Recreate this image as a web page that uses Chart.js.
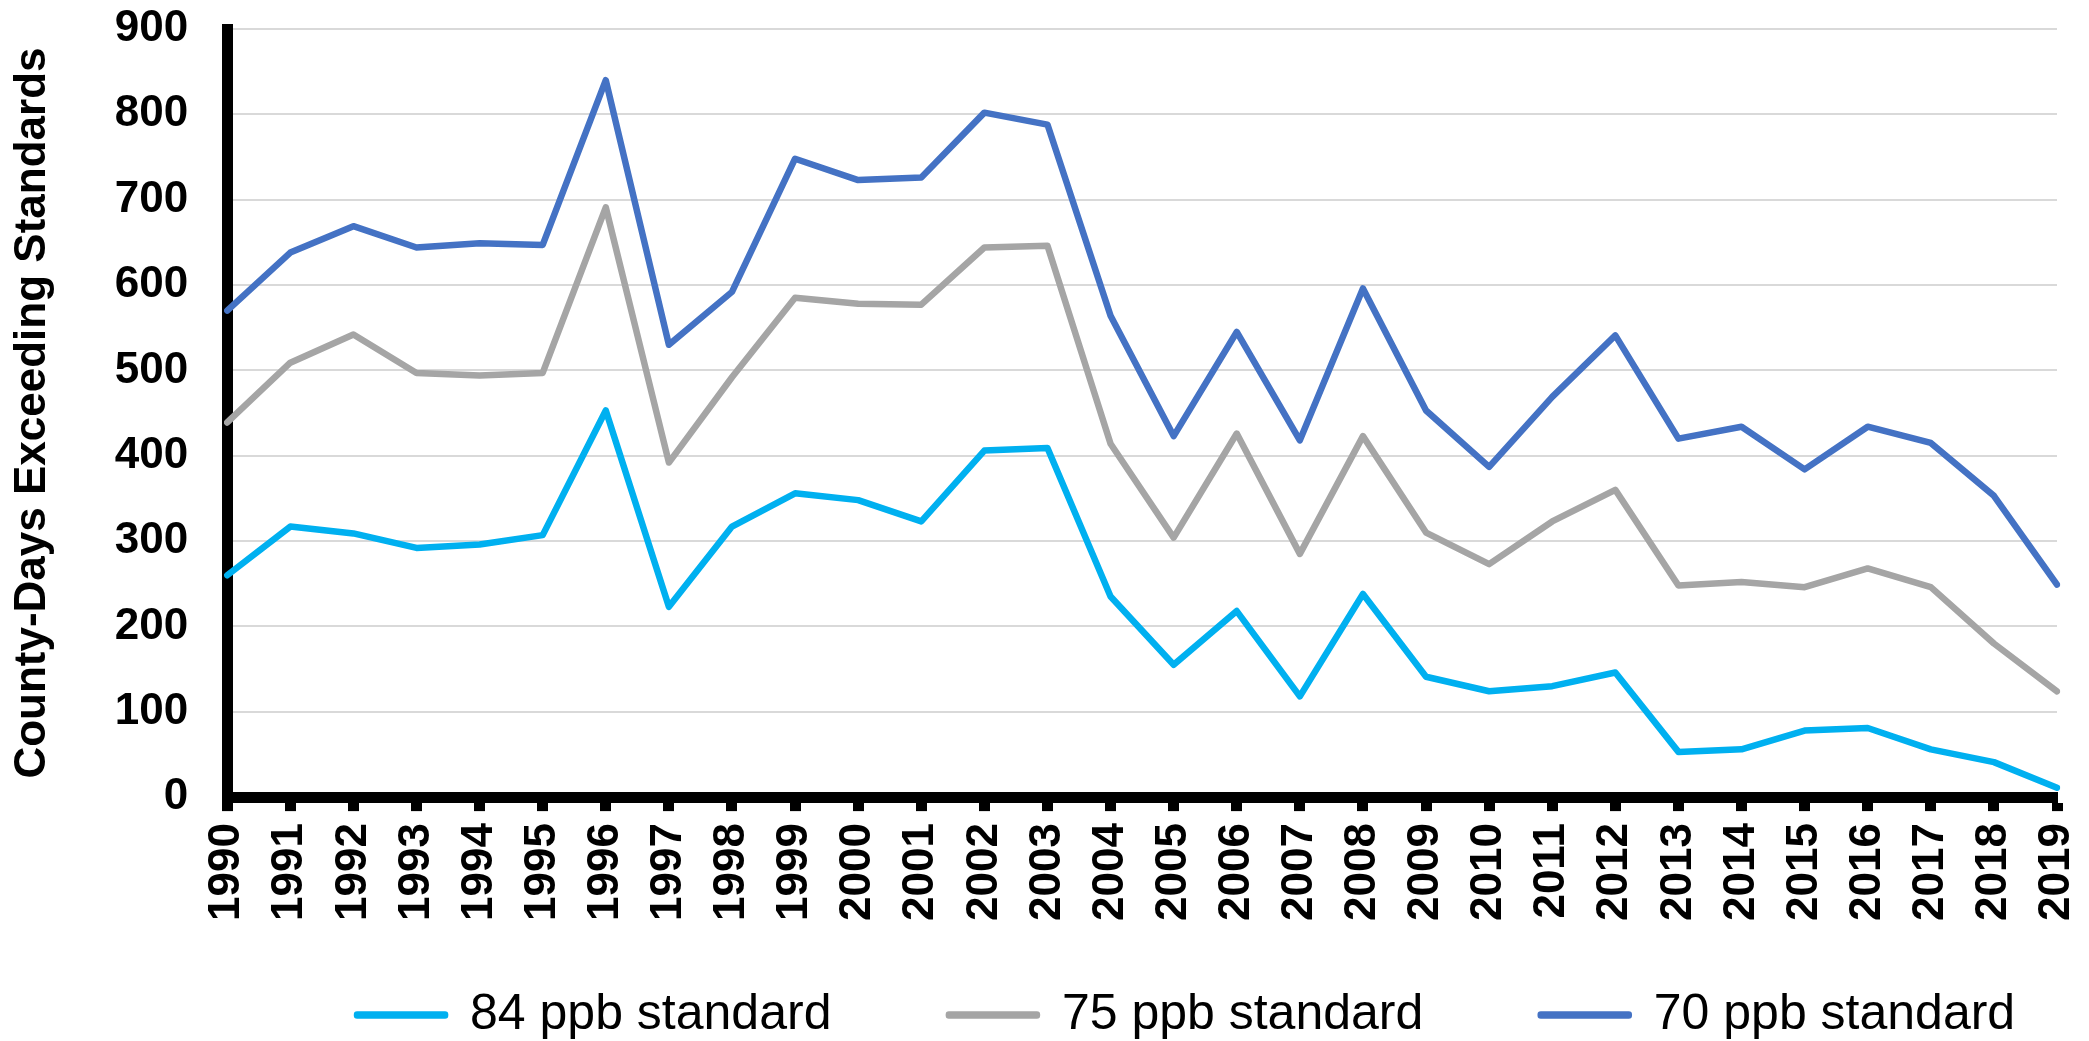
<!DOCTYPE html>
<html>
<head>
<meta charset="utf-8">
<script src="https://cdn.jsdelivr.net/npm/chart.js@4.4.1/dist/chart.umd.min.js"></script>
<style>
  html, body { margin: 0; padding: 0; background: #ffffff; overflow: hidden; }
  #wrap { position: relative; width: 2089px; height: 1041px; }
</style>
</head>
<body>
<div id="wrap"><canvas id="ozoneChart"></canvas></div>
<script>
const years = ['1990', '1991', '1992', '1993', '1994', '1995', '1996', '1997', '1998', '1999',
  '2000', '2001', '2002', '2003', '2004', '2005', '2006', '2007', '2008', '2009',
  '2010', '2011', '2012', '2013', '2014', '2015', '2016', '2017', '2018', '2019'];

const std84 = [260, 317, 309, 292, 296, 307, 453, 223, 317, 356,
  348, 323, 406, 409, 235, 155, 218, 118, 238, 141,
  124, 130, 146, 53, 56, 78, 81, 56, 41, 11];

const std75 = [439, 509, 542, 497, 494, 497, 691, 392, 492, 585,
  578, 577, 644, 646, 414, 304, 426, 285, 423, 310,
  273, 323, 360, 248, 252, 246, 268, 246, 180, 124];

const std70 = [570, 638, 669, 644, 649, 647, 840, 530, 592, 748,
  723, 726, 802, 788, 564, 423, 545, 418, 596, 453,
  387, 469, 541, 420, 434, 384, 434, 415, 353, 249];

const seriesNames = ['84 ppb standard', '75 ppb standard', '70 ppb standard'];
const seriesColors = ['#00b0f0', '#a5a5a5', '#4472c4'];
const yTicks = [0, 100, 200, 300, 400, 500, 600, 700, 800, 900];

const fontFamily = '"Liberation Sans", Arial, sans-serif';
const ctx = document.getElementById('ozoneChart').getContext('2d');

// extra room after each legend entry, like the original
const legendGap = '     ';

const makeSet = (i, values) => ({
  label: seriesNames[i],
  data: values,
  borderColor: seriesColors[i],
  backgroundColor: seriesColors[i],
  borderWidth: 6.5,
  pointRadius: 0,
  tension: 0,
  borderJoinStyle: 'round',
  borderCapStyle: 'round'
});

// nudge the legend row to where the original has it
const legendShift = {
  id: 'legendShift',
  afterLayout(chart) {
    chart.legend.left += 44;
    chart.legend.right += 44;
    chart.legend.top += 9;
    chart.legend.bottom += 9;
  }
};

new Chart(ctx, {
  type: 'line',
  data: {
    labels: years,
    datasets: [makeSet(0, std84), makeSet(1, std75), makeSet(2, std70)]
  },
  options: {
    responsive: true,
    maintainAspectRatio: false,
    animation: false,
    layout: {
      padding: 0
    },
    plugins: {
      legend: {
        position: 'bottom',
        fullSize: false,
        labels: {
          color: '#000000',
          font: { family: fontFamily, size: 50 },
          boxWidth: 88,
          boxHeight: 1,
          padding: 48,
          generateLabels(chart) {
            const items = Chart.defaults.plugins.legend.labels.generateLabels(chart);
            items.forEach((item, i) => {
              if (i < items.length - 1) item.text += legendGap;
            });
            return items;
          }
        }
      },
      tooltip: { enabled: false }
    },
    scales: {
      x: {
        border: { display: true, color: '#000000', width: 11 },
        grid: {
          drawOnChartArea: false,
          drawTicks: true,
          tickLength: 14,
          tickWidth: 11,
          tickColor: '#000000'
        },
        ticks: {
          color: '#000000',
          font: { family: fontFamily, size: 44, weight: 'bold' },
          minRotation: 90,
          maxRotation: 90,
          padding: 12,
          autoSkip: false
        },
        afterFit(scale) {
          scale.paddingRight = 32;
        }
      },
      y: {
        min: yTicks[0],
        max: yTicks[yTicks.length - 1],
        border: { display: true, color: '#000000', width: 11 },
        grid: {
          color: '#d9d9d9',
          lineWidth: 2,
          drawTicks: false
        },
        ticks: {
          stepSize: 100,
          color: '#000000',
          font: { family: fontFamily, size: 44, weight: 'bold' },
          padding: 39
        },
        title: {
          display: true,
          text: 'County-Days Exceeding Standards',
          color: '#000000',
          font: { family: fontFamily, size: 44, weight: 'bold' },
          padding: { top: 6, bottom: 17 }
        },
        afterFit(scale) {
          scale.paddingTop = 29;
        }
      }
    }
  },
  plugins: [legendShift]
});
</script>
</body>
</html>
